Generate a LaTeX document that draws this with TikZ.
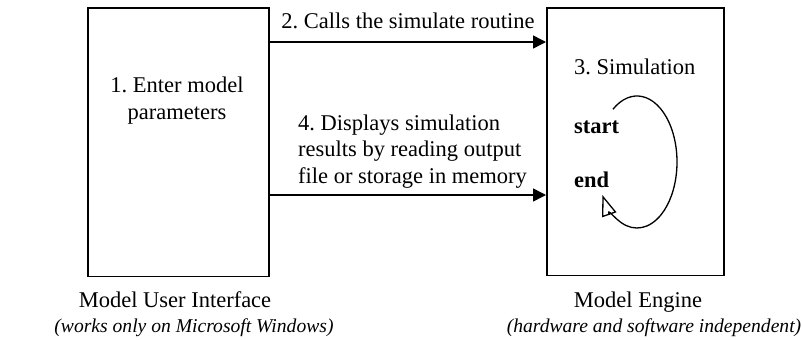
\documentclass[tikz,border=0pt]{standalone}
\usepackage{fontspec}
\setmainfont{Liberation Serif}
\usetikzlibrary{arrows.meta}
\frenchspacing
\begin{document}
\begin{tikzpicture}[x=1bp,y=1bp,
  box/.style={draw, line width=1.5bp, inner sep=0, anchor=south west},
  lbl/.style={inner sep=0, font=\fontsize{22.5bp}{26.5bp}\selectfont},
  capnote/.style={inner sep=0, font=\fontsize{19.6bp}{24bp}\selectfont\itshape},
  flow/.style={line width=1.5bp, -{Triangle[length=13bp,width=13bp]}},
  loop/.style={line width=1.3bp, -{Triangle[open,length=21bp,width=15bp,line width=1.3bp]}}]
\useasboundingbox (0,0) rectangle (802,339);
\node[box, minimum width=181bp, minimum height=268bp] (ui) at (87,62) {};
\node[box, minimum width=177bp, minimum height=267bp] (eng) at (546,63) {};
\coordinate (y1) at (0,297);
\coordinate (y2) at (0,144);
\draw[flow] (ui.east |- y1) -- (eng.west |- y1);
\draw[flow] (ui.east |- y2) -- (eng.west |- y2);
\node[lbl, anchor=base] (t2) at (408,311) {2. Calls the simulate routine};
\node[lbl, anchor=base, align=center] (t1) at (177,220) {1. Enter model\\parameters};
\node[lbl, anchor=base west, align=left] (t4) at (298,156) {4. Displays simulation\\results by reading output\\file or storage in memory};
\node[lbl, anchor=base west] (t3) at (574,265) {3. Simulation};
\node[lbl, anchor=base west] (ts) at (574,206) {\textbf{start}};
\node[lbl, anchor=base west] (te) at (574,152) {\textbf{end}};
\coordinate (lc) at (637,177);
\draw[loop] (lc) ++(127:40 and 66) arc[start angle=127, end angle=-150, x radius=40, y radius=66];
\node[lbl, anchor=base] (c1) at (175,32) {Model User Interface};
\node[capnote, anchor=base] (c2) at (194,7) {(works only on Microsoft Windows)};
\node[lbl, anchor=base] (c3) at (638,32) {Model Engine};
\node[capnote, anchor=base] (c4) at (654,7) {(hardware and software independent)};
\end{tikzpicture}
\end{document}
